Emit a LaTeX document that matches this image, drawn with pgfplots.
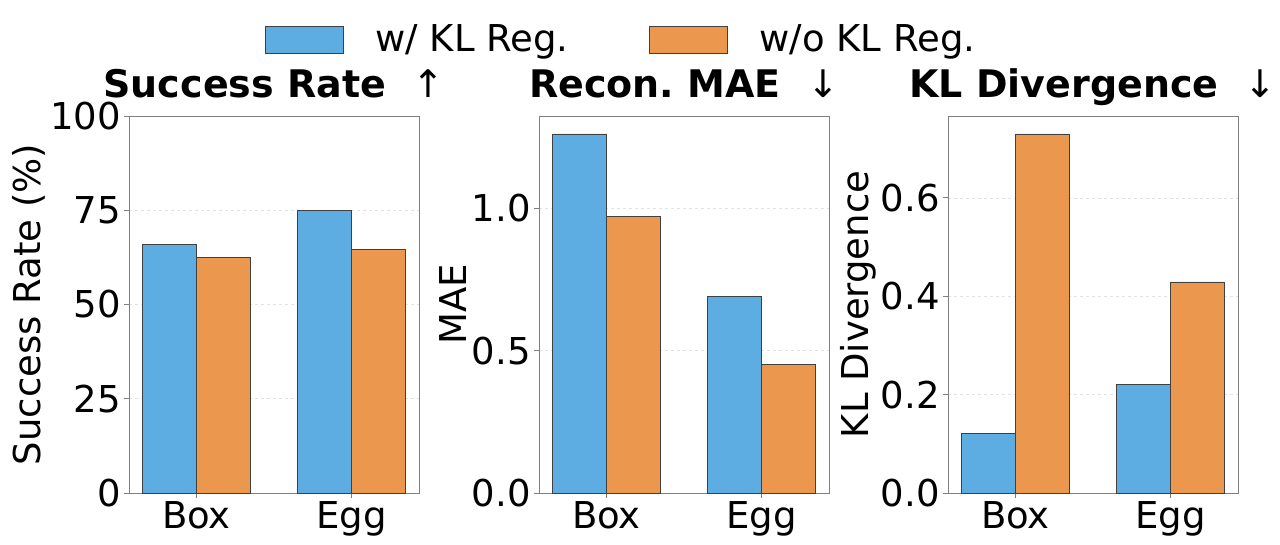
\documentclass[border=0pt]{standalone}
\usepackage{fontspec}
\setmainfont{DejaVu Sans}
\newfontfamily\arrowfont{DejaVu Sans}
\usepackage{pgfplots}
\pgfplotsset{compat=1.18}
\definecolor{cblue}{HTML}{5DADE2}
\definecolor{corange}{HTML}{EB984E}
\definecolor{axgray}{HTML}{808080}
\definecolor{edgegray}{HTML}{404040}
\frenchspacing

\pgfplotsset{
  panel/.style={
    scale only axis, width=290pt, height=377pt,
    anchor=south west,
    ybar=0pt, bar width=0.35,
    xmin=-0.435, xmax=1.435, ymin=0,
    xtick={0,1}, xticklabels={Box,Egg},
    tick pos=left, tick align=outside,
    major tick length=5pt,
    tick style={axgray, line width=0.9pt},
    axis line style={axgray, line width=0.9pt},
    ymajorgrids, grid style={dashed, gray!22, line width=0.6pt},
    ticklabel style={font=\fontsize{37}{40}\selectfont, inner sep=3pt},
    ylabel style={font=\fontsize{37}{40}\selectfont, inner sep=2pt},
    title style={font=\fontsize{38}{42}\selectfont\bfseries, at={(0.5,1)}, anchor=base, yshift=12pt},
    every axis plot/.append style={draw=edgegray, line width=0.8pt},
  },
}

\begin{document}
\begin{tikzpicture}
\useasboundingbox (0,0) rectangle (1280pt,544pt);

% Panel 1
\begin{axis}[panel, at={(129pt,51pt)},
  ymax=100, ytick={0,25,50,75,100}, yticklabels={0,25,50,75,100},
  ylabel={Success Rate (\%)},
  title={Success Rate\ \ {\arrowfont\mdseries ↑}},
  legend style={at={(1.6966,1.2042)}, anchor=center, draw=none, fill=none,
    font=\fontsize{37}{40}\selectfont,
    /tikz/every odd column/.append style={column sep=30pt},
    /tikz/every even column/.append style={column sep=78pt}},
  legend columns=2,
  legend image code/.code={\draw[#1, line width=0.8pt] (0pt,-14.3pt) rectangle (78pt,12.7pt);},
]
\addplot[fill=cblue] coordinates {(0,66.0) (1,74.9)};
\addplot[fill=corange] coordinates {(0,62.5) (1,64.5)};
\legend{w/ KL Reg., w/o KL Reg.}
\end{axis}

% Panel 2
\begin{axis}[panel, at={(539pt,51pt)},
  ymax=1.3241, ytick={0,0.5,1}, yticklabels={0.0,0.5,1.0},
  ylabel={MAE},
  title={Recon. MAE\ \ {\arrowfont\mdseries ↓}},
]
\addplot[fill=cblue] coordinates {(0,1.261) (1,0.691)};
\addplot[fill=corange] coordinates {(0,0.970) (1,0.452)};
\end{axis}

% Panel 3
\begin{axis}[panel, at={(948pt,51pt)},
  ymax=0.7665, ytick={0,0.2,0.4,0.6}, yticklabels={0.0,0.2,0.4,0.6},
  ylabel={KL Divergence},
  title={KL Divergence\ \ {\arrowfont\mdseries ↓}},
]
\addplot[fill=cblue] coordinates {(0,0.121) (1,0.220)};
\addplot[fill=corange] coordinates {(0,0.730) (1,0.429)};
\end{axis}
\end{tikzpicture}
\end{document}
